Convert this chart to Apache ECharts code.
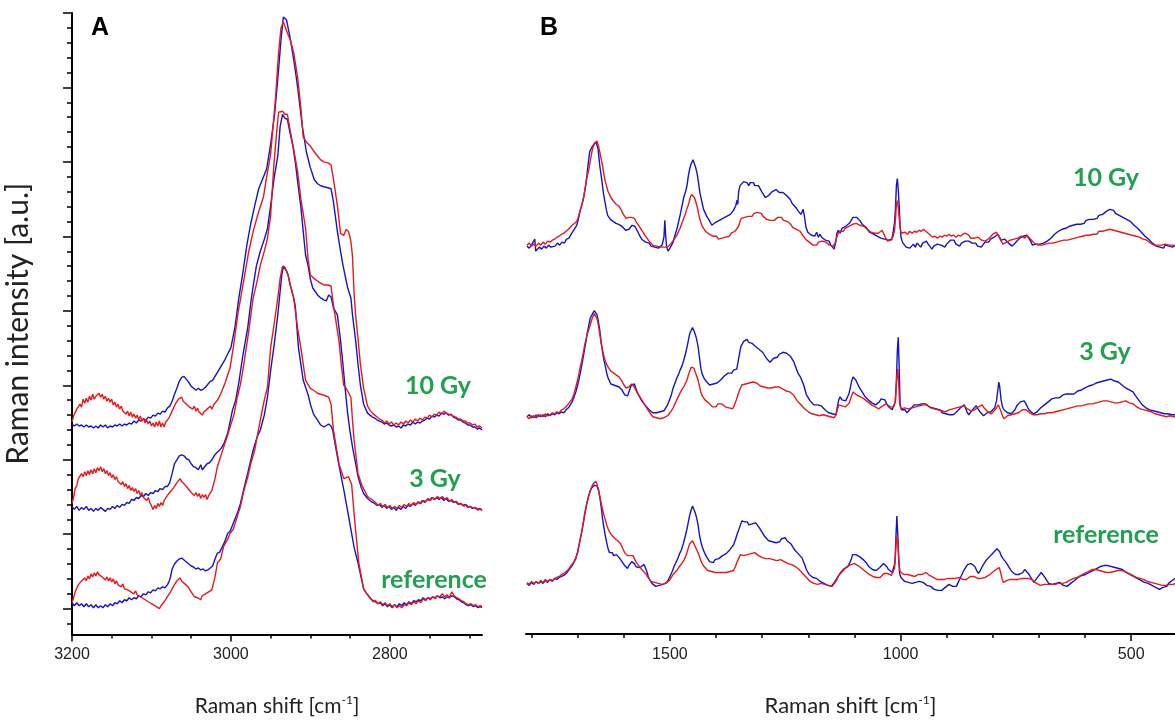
<!DOCTYPE html>
<html>
<head>
<meta charset="utf-8">
<script src="https://cdn.jsdelivr.net/npm/echarts@6/dist/echarts.min.js"></script>
<style>
html,body{margin:0;padding:0;background:#fff;}
#chart{width:1175px;height:722px;}
</style>
</head>
<body>
<div id="chart"></div>
<script>
// ---------- Panel A: 3200-2684 cm-1 ----------
const A_10Gy_blue = [[3200,186],[3197,184],[3194,186],[3191,184],[3188,185],[3185,183],[3182,185],[3179,183],[3176,184],[3173,182],[3170,184],[3167,182],[3164,185],[3161,183],[3158,185],[3155,182],[3152,184],[3149,183],[3146,185],[3143,184],[3140,186],[3137,184],[3134,186],[3131,185],[3128,187],[3125,186],[3122,189],[3119,187],[3116,190],[3113,189],[3110,191],[3107,190],[3104,193],[3101,192],[3098,195],[3095,194],[3092,197],[3089,196],[3086,199],[3083,198],[3080,202],[3077,204],[3074,209],[3071,216],[3068,222],[3065,229],[3062,233],[3059,234],[3056,231],[3053,228],[3050,224],[3047,222],[3044,220],[3041,222],[3038,220],[3035,221],[3032,223],[3029,226],[3026,229],[3023,230],[3020,234],[3017,238],[3014,242],[3011,246],[3008,250],[3005,255],[3000,263],[2995,283],[2990,313],[2985,338],[2980,366],[2975,388],[2970,406],[2965,423],[2960,433],[2955,443],[2950,468],[2945,498],[2940,543],[2937,573],[2934,596],[2930,593],[2925,573],[2920,548],[2916,525],[2910,485],[2905,460],[2900,444],[2895,432],[2891,428],[2887,426],[2883,425],[2878,424],[2874,423],[2871,410],[2866,380],[2862,360],[2859,346],[2853,323],[2849,313],[2847,296],[2843,270],[2840,246],[2837,225],[2833,206],[2828,197],[2825,195],[2822,193],[2819,192],[2816,190],[2813,189],[2810,188],[2807,186],[2804,187],[2801,185],[2798,184],[2795,185],[2792,183],[2789,184],[2786,182],[2783,185],[2780,184],[2777,186],[2774,185],[2771,188],[2768,186],[2765,188],[2762,187],[2759,189],[2756,190],[2753,192],[2750,191],[2747,194],[2744,193],[2741,195],[2738,194],[2735,197],[2732,196],[2729,197],[2726,195],[2723,196],[2720,193],[2717,192],[2714,190],[2711,190],[2708,188],[2705,187],[2702,185],[2699,185],[2696,183],[2693,183],[2690,181],[2687,182],[2684,180]];
const A_10Gy_red = [[3200,188],[3198,194],[3196,192],[3194,201],[3192,199],[3190,206],[3188,203],[3186,211],[3184,207],[3182,212],[3180,208],[3178,214],[3176,210],[3174,216],[3172,211],[3170,214],[3168,212],[3166,217],[3164,213],[3162,216],[3160,211],[3158,214],[3156,209],[3154,212],[3152,208],[3150,211],[3148,205],[3146,208],[3144,203],[3142,206],[3140,201],[3138,204],[3136,199],[3134,201],[3132,196],[3130,199],[3128,194],[3126,198],[3124,193],[3122,196],[3120,192],[3118,195],[3116,190],[3114,194],[3112,189],[3110,192],[3108,187],[3106,190],[3104,186],[3102,189],[3100,184],[3098,187],[3096,183],[3094,188],[3092,184],[3090,189],[3088,183],[3086,187],[3084,183],[3082,188],[3080,186],[3078,192],[3076,191],[3074,199],[3072,200],[3070,206],[3068,205],[3066,211],[3064,210],[3062,213],[3060,209],[3058,211],[3056,206],[3054,208],[3052,203],[3050,205],[3048,201],[3046,204],[3044,199],[3042,202],[3040,198],[3038,200],[3036,195],[3034,198],[3032,196],[3030,201],[3028,199],[3026,204],[3024,201],[3022,205],[3020,205],[3017,210],[3013,216],[3007,228],[3001,243],[2997,263],[2991,298],[2984,330],[2978,358],[2972,380],[2965,400],[2959,415],[2955,435],[2950,458],[2944,513],[2940,560],[2937,585],[2934,591],[2929,580],[2925,572],[2921,560],[2916,535],[2912,505],[2909,475],[2904,469],[2900,466],[2895,460],[2891,456],[2887,452],[2883,450],[2878,449],[2874,447],[2871,433],[2866,406],[2862,378],[2858,376],[2855,382],[2852,380],[2849,370],[2847,355],[2845,318],[2843,295],[2840,272],[2837,246],[2833,222],[2828,204],[2825,200],[2822,197],[2819,195],[2816,193],[2813,191],[2810,190],[2807,187],[2804,189],[2801,186],[2798,188],[2795,185],[2792,187],[2789,185],[2786,188],[2783,186],[2780,189],[2777,187],[2774,190],[2771,188],[2768,191],[2765,189],[2762,192],[2759,190],[2756,193],[2753,192],[2750,195],[2747,193],[2744,196],[2741,195],[2738,198],[2735,196],[2732,199],[2729,197],[2726,196],[2723,195],[2720,194],[2717,193],[2714,191],[2711,191],[2708,189],[2705,189],[2702,187],[2699,187],[2696,185],[2693,186],[2690,183],[2687,184],[2684,182]];
const A_3Gy_blue = [[3200,103],[3197,100],[3194,103],[3191,99],[3188,102],[3185,100],[3182,103],[3179,99],[3176,101],[3173,98],[3170,101],[3167,99],[3164,102],[3161,100],[3158,98],[3155,101],[3152,100],[3149,103],[3146,101],[3143,104],[3140,102],[3137,105],[3134,104],[3131,107],[3128,106],[3125,110],[3122,109],[3119,112],[3116,111],[3113,114],[3110,113],[3107,116],[3104,114],[3101,117],[3098,116],[3095,119],[3092,118],[3089,121],[3086,120],[3083,123],[3080,123],[3077,127],[3074,136],[3071,146],[3068,150],[3065,154],[3062,155],[3059,154],[3056,151],[3053,150],[3050,146],[3047,143],[3044,142],[3041,140],[3038,145],[3036,140],[3033,143],[3030,146],[3027,147],[3024,150],[3021,154],[3018,157],[3015,159],[3012,162],[3009,166],[3004,177],[2998,200],[2994,210],[2990,228],[2985,255],[2979,282],[2975,308],[2972,325],[2968,345],[2963,360],[2958,372],[2954,383],[2950,406],[2946,432],[2941,456],[2938,486],[2935,498],[2932,494],[2929,493],[2925,477],[2922,466],[2919,450],[2916,430],[2912,405],[2909,380],[2906,356],[2903,346],[2900,332],[2897,323],[2891,316],[2887,313],[2883,311],[2880,310],[2877,316],[2874,314],[2871,303],[2866,296],[2862,270],[2859,246],[2856,220],[2853,196],[2850,178],[2847,163],[2843,146],[2840,133],[2836,122],[2833,116],[2828,111],[2825,109],[2822,107],[2819,106],[2816,104],[2813,105],[2810,102],[2807,104],[2804,101],[2801,103],[2798,100],[2795,102],[2792,99],[2789,102],[2786,100],[2783,103],[2780,101],[2777,104],[2774,103],[2771,106],[2768,104],[2765,107],[2762,106],[2759,109],[2756,107],[2753,110],[2750,109],[2747,112],[2744,110],[2741,112],[2738,110],[2735,112],[2732,109],[2729,111],[2726,108],[2723,109],[2720,107],[2717,108],[2714,105],[2711,106],[2708,104],[2705,105],[2702,102],[2699,103],[2696,101],[2693,102],[2690,100],[2687,101],[2684,99]];
const A_3Gy_red = [[3200,106],[3198,112],[3196,121],[3194,124],[3192,131],[3190,129],[3188,136],[3186,133],[3184,138],[3182,134],[3180,139],[3178,135],[3176,140],[3174,136],[3172,141],[3170,137],[3168,142],[3166,139],[3164,143],[3162,138],[3160,141],[3158,136],[3156,139],[3154,134],[3152,137],[3150,132],[3148,135],[3146,130],[3144,133],[3142,128],[3140,130],[3138,125],[3136,128],[3134,123],[3132,126],[3130,121],[3128,124],[3126,119],[3124,122],[3122,118],[3120,121],[3118,116],[3116,119],[3114,114],[3112,117],[3110,112],[3108,114],[3106,109],[3104,112],[3102,107],[3100,106],[3098,100],[3096,104],[3094,101],[3092,106],[3090,103],[3088,107],[3086,104],[3084,109],[3082,108],[3080,114],[3078,113],[3076,118],[3074,117],[3072,122],[3070,121],[3068,127],[3066,126],[3064,131],[3062,128],[3060,130],[3058,125],[3056,126],[3054,121],[3052,122],[3050,117],[3048,119],[3046,114],[3044,117],[3042,113],[3040,116],[3038,111],[3036,115],[3034,112],[3032,115],[3030,110],[3028,114],[3026,115],[3024,119],[3022,120],[3020,131],[3017,143],[3013,153],[3009,163],[3004,175],[3001,183],[2996,196],[2992,213],[2988,226],[2985,240],[2978,277],[2972,313],[2967,330],[2963,346],[2958,360],[2954,373],[2950,396],[2946,446],[2943,475],[2940,500],[2935,501],[2932,498],[2929,498],[2925,480],[2921,463],[2916,440],[2912,413],[2906,383],[2903,353],[2900,336],[2896,333],[2891,330],[2887,328],[2883,326],[2878,326],[2874,325],[2871,306],[2866,280],[2864,270],[2861,245],[2858,225],[2855,222],[2853,221],[2849,213],[2847,190],[2845,170],[2842,150],[2840,136],[2835,124],[2828,113],[2821,109],[2818,107],[2815,104],[2812,106],[2809,103],[2806,105],[2803,102],[2800,104],[2797,101],[2794,103],[2791,101],[2788,104],[2785,102],[2782,105],[2779,103],[2776,106],[2773,104],[2770,107],[2767,105],[2764,108],[2761,106],[2758,109],[2755,108],[2752,111],[2749,109],[2746,112],[2743,110],[2740,113],[2737,111],[2734,113],[2731,110],[2728,112],[2725,108],[2722,110],[2719,107],[2716,108],[2713,105],[2710,106],[2707,103],[2704,105],[2701,102],[2698,103],[2695,101],[2692,102],[2689,99],[2686,101],[2684,99]];
const A_ref_blue = [[3200,6],[3197,3],[3194,6],[3191,3],[3188,5],[3185,2],[3182,5],[3179,2],[3176,4],[3173,1],[3170,4],[3167,1],[3164,3],[3161,1],[3158,4],[3155,2],[3152,5],[3149,3],[3146,6],[3143,5],[3140,8],[3137,6],[3134,9],[3131,8],[3128,11],[3125,9],[3122,11],[3119,10],[3116,13],[3113,12],[3110,15],[3107,14],[3104,17],[3101,16],[3098,19],[3095,18],[3092,21],[3089,20],[3086,22],[3083,21],[3080,24],[3078,27],[3076,32],[3074,40],[3071,45],[3068,48],[3065,50],[3062,51],[3059,49],[3056,47],[3053,45],[3050,43],[3047,42],[3044,40],[3041,41],[3038,39],[3035,40],[3032,38],[3029,39],[3026,41],[3023,43],[3020,50],[3017,56],[3014,57],[3011,62],[3008,67],[3004,76],[3001,78],[2997,86],[2992,96],[2988,106],[2984,120],[2979,136],[2972,160],[2967,173],[2963,180],[2958,195],[2954,213],[2950,240],[2946,263],[2941,296],[2938,320],[2936,336],[2934,345],[2930,340],[2928,336],[2925,325],[2921,313],[2919,305],[2915,263],[2909,230],[2903,216],[2900,206],[2896,196],[2891,190],[2887,185],[2883,183],[2877,186],[2874,184],[2872,180],[2866,153],[2862,136],[2858,120],[2853,98],[2849,80],[2845,62],[2840,46],[2836,31],[2833,20],[2828,14],[2824,10],[2821,8],[2818,7],[2815,5],[2812,6],[2809,3],[2806,5],[2803,2],[2800,4],[2797,1],[2794,4],[2791,2],[2788,5],[2785,3],[2782,6],[2779,4],[2776,7],[2773,5],[2770,8],[2767,7],[2764,9],[2761,8],[2758,11],[2755,9],[2752,11],[2749,10],[2746,12],[2743,11],[2740,13],[2737,11],[2734,12],[2731,10],[2728,12],[2725,11],[2722,13],[2719,12],[2716,10],[2713,9],[2710,7],[2707,6],[2704,4],[2701,3],[2698,4],[2695,2],[2692,3],[2689,1],[2686,2],[2684,1]];
const A_ref_red = [[3200,6],[3198,11],[3196,17],[3194,19],[3192,24],[3190,22],[3188,28],[3186,26],[3184,31],[3182,28],[3180,33],[3178,30],[3176,35],[3174,32],[3172,36],[3170,33],[3168,37],[3166,34],[3164,36],[3162,32],[3160,34],[3158,29],[3156,32],[3154,28],[3152,31],[3150,27],[3148,30],[3146,25],[3144,28],[3142,24],[3140,26],[3138,22],[3136,25],[3134,20],[3132,22],[3130,19],[3128,21],[3126,17],[3124,19],[3122,15],[3120,18],[3118,14],[3116,16],[3114,12],[3112,14],[3110,10],[3108,12],[3106,8],[3104,10],[3102,6],[3100,8],[3098,4],[3096,6],[3094,2],[3092,4],[3090,0],[3088,3],[3086,2],[3084,7],[3082,7],[3080,12],[3078,12],[3076,17],[3074,18],[3072,23],[3070,23],[3068,28],[3066,27],[3064,31],[3062,28],[3060,29],[3058,25],[3056,26],[3054,22],[3052,21],[3050,17],[3048,15],[3046,12],[3044,14],[3042,11],[3040,13],[3038,9],[3036,13],[3034,11],[3032,15],[3030,13],[3028,17],[3026,15],[3024,19],[3022,20],[3020,32],[3017,46],[3013,50],[3009,63],[3004,70],[3001,76],[2997,80],[2992,93],[2988,103],[2984,118],[2979,132],[2975,146],[2970,160],[2967,173],[2963,190],[2958,210],[2954,223],[2950,263],[2945,290],[2941,313],[2938,333],[2935,345],[2932,344],[2928,336],[2925,325],[2921,313],[2916,282],[2912,263],[2906,230],[2900,222],[2896,220],[2891,217],[2887,216],[2883,215],[2877,213],[2874,206],[2871,180],[2864,146],[2858,131],[2855,132],[2852,133],[2848,125],[2845,96],[2842,70],[2839,46],[2833,20],[2828,14],[2824,10],[2821,7],[2818,8],[2815,5],[2812,7],[2809,4],[2806,6],[2803,3],[2800,5],[2797,2],[2794,4],[2791,1],[2788,3],[2785,1],[2782,4],[2779,3],[2776,6],[2773,4],[2770,7],[2767,5],[2764,8],[2761,6],[2758,10],[2755,8],[2752,11],[2749,9],[2746,12],[2743,10],[2740,13],[2737,12],[2734,15],[2731,12],[2728,14],[2725,11],[2722,17],[2719,13],[2716,11],[2713,10],[2710,8],[2707,7],[2704,5],[2701,4],[2698,5],[2695,3],[2692,4],[2689,2],[2686,3],[2684,2]];

// ---------- Panel B: 1812-405 cm-1 ----------
const B_10Gy_blue = [[1810,391],[1805,389],[1800,392],[1796,390],[1793,398],[1791,386],[1788,388],[1783,390],[1778,388],[1773,391],[1768,389],[1763,392],[1758,390],[1754,392],[1749,391],[1744,394],[1739,392],[1734,395],[1729,394],[1724,398],[1719,399],[1714,403],[1710,406],[1706,409],[1702,412],[1698,419],[1695,426],[1691,432],[1687,440],[1683,451],[1680,462],[1677,475],[1674,486],[1671,488],[1669,491],[1665,493],[1661,496],[1658,494],[1656,490],[1654,481],[1652,472],[1649,462],[1647,455],[1644,444],[1641,436],[1638,428],[1635,422],[1632,420],[1629,418],[1626,419],[1623,416],[1620,417],[1617,414],[1614,416],[1611,413],[1608,413],[1604,411],[1600,409],[1596,407],[1593,405],[1589,408],[1586,410],[1582,412],[1579,410],[1576,411],[1572,410],[1568,404],[1565,401],[1561,398],[1557,396],[1553,395],[1549,393],[1545,394],[1541,391],[1537,392],[1533,390],[1529,392],[1525,389],[1521,391],[1517,392],[1513,400],[1511,417],[1509,400],[1507,390],[1504,386],[1500,389],[1496,391],[1493,395],[1489,402],[1485,408],[1481,416],[1478,422],[1474,431],[1470,440],[1466,446],[1463,452],[1460,462],[1457,469],[1454,474],[1450,478],[1447,474],[1444,470],[1441,464],[1438,455],[1435,445],[1431,436],[1427,428],[1424,425],[1420,421],[1416,418],[1413,416],[1409,412],[1405,414],[1401,415],[1397,414],[1393,417],[1389,416],[1385,419],[1381,418],[1377,421],[1373,420],[1369,423],[1365,425],[1362,427],[1359,426],[1357,432],[1355,437],[1353,433],[1351,446],[1348,452],[1344,453],[1340,456],[1336,454],[1333,455],[1329,452],[1326,455],[1322,453],[1319,455],[1316,452],[1312,451],[1308,452],[1305,450],[1301,446],[1297,443],[1293,440],[1290,440],[1286,442],[1282,444],[1278,446],[1274,447],[1270,448],[1267,446],[1263,445],[1259,447],[1255,445],[1251,443],[1247,442],[1243,440],[1239,438],[1235,434],[1231,432],[1227,430],[1223,427],[1219,425],[1216,423],[1214,421],[1211,428],[1208,420],[1205,410],[1201,405],[1197,404],[1193,402],[1190,404],[1186,401],[1182,405],[1178,400],[1175,403],[1171,400],[1167,398],[1163,397],[1159,395],[1155,396],[1151,392],[1147,390],[1144,388],[1140,396],[1138,404],[1135,407],[1131,404],[1127,409],[1123,408],[1119,411],[1115,410],[1111,414],[1107,417],[1103,420],[1099,422],[1095,420],[1091,418],[1087,416],[1083,413],[1079,411],[1075,410],[1071,408],[1067,405],[1063,406],[1059,403],[1055,402],[1051,401],[1047,403],[1043,399],[1039,401],[1035,398],[1031,400],[1027,397],[1023,396],[1019,398],[1016,405],[1013,415],[1011,430],[1009,452],[1007,459],[1005,448],[1003,432],[1001,412],[999,400],[996,395],[992,393],[988,390],[984,392],[980,389],[976,391],[972,393],[968,390],[964,394],[960,392],[956,390],[952,394],[948,392],[944,396],[940,393],[936,391],[932,388],[928,391],[924,390],[920,393],[916,395],[912,392],[908,394],[904,390],[900,393],[896,394],[892,397],[888,395],[884,397],[880,393],[876,395],[872,391],[868,394],[864,392],[860,396],[856,398],[852,396],[849,398],[845,394],[841,392],[837,394],[833,391],[829,393],[825,390],[821,392],[817,395],[813,397],[809,395],[805,398],[801,396],[797,400],[793,401],[789,403],[786,401],[782,397],[778,396],[774,398],[770,396],[766,394],[762,393],[758,391],[754,393],[750,395],[746,397],[742,399],[738,398],[734,401],[730,399],[726,402],[722,400],[718,396],[714,392],[710,391],[706,393],[702,391],[698,393],[694,392],[690,394],[686,393],[682,396],[678,396],[674,399],[670,400],[666,403],[662,402],[658,406],[654,405],[650,408],[646,406],[642,409],[638,408],[634,411],[630,410],[626,412],[622,411],[618,413],[614,414],[610,413],[606,415],[602,414],[598,417],[594,416],[590,418],[586,419],[582,418],[578,420],[574,419],[570,422],[566,421],[562,423],[558,424],[554,426],[550,425],[546,428],[542,426],[538,427],[534,424],[530,425],[526,422],[522,423],[518,420],[514,421],[510,418],[506,418],[502,416],[498,415],[494,412],[490,411],[486,409],[482,407],[478,405],[474,403],[470,401],[466,400],[462,398],[458,397],[454,394],[450,393],[446,391],[442,392],[438,390],[434,391],[430,389],[426,392],[422,390],[418,391],[414,393],[410,390],[405,392]];
const B_10Gy_red = [[1810,392],[1805,394],[1800,391],[1795,393],[1790,391],[1785,394],[1780,392],[1775,395],[1770,393],[1765,396],[1760,395],[1755,397],[1750,398],[1745,400],[1740,401],[1735,403],[1730,404],[1725,406],[1720,408],[1716,410],[1712,412],[1708,413],[1704,415],[1700,418],[1697,423],[1694,428],[1691,433],[1688,438],[1685,446],[1682,455],[1679,462],[1676,468],[1673,476],[1670,484],[1667,490],[1664,494],[1661,496],[1658,497],[1655,492],[1652,486],[1649,479],[1646,472],[1643,463],[1640,456],[1637,451],[1634,446],[1631,443],[1628,440],[1625,438],[1622,436],[1619,435],[1616,433],[1613,433],[1610,431],[1607,430],[1604,426],[1601,423],[1598,421],[1595,419],[1592,418],[1589,420],[1586,421],[1583,420],[1580,418],[1577,419],[1574,416],[1571,414],[1568,412],[1565,410],[1561,407],[1557,404],[1553,401],[1549,399],[1545,396],[1541,394],[1537,392],[1533,393],[1529,391],[1525,393],[1521,390],[1517,392],[1513,390],[1509,391],[1505,390],[1501,392],[1497,394],[1493,396],[1489,399],[1485,402],[1481,406],[1478,409],[1474,414],[1470,419],[1466,424],[1463,429],[1459,434],[1456,440],[1453,443],[1450,443],[1447,440],[1444,436],[1441,431],[1438,424],[1435,418],[1431,412],[1427,409],[1423,406],[1419,405],[1415,403],[1411,402],[1407,401],[1403,399],[1399,401],[1395,398],[1391,400],[1387,399],[1383,401],[1379,400],[1375,402],[1371,401],[1367,404],[1363,403],[1359,406],[1355,407],[1351,411],[1348,416],[1345,419],[1342,421],[1338,420],[1334,422],[1330,421],[1326,423],[1322,421],[1318,424],[1314,423],[1310,425],[1306,423],[1302,424],[1298,421],[1294,420],[1290,418],[1286,416],[1282,417],[1278,415],[1274,417],[1270,418],[1266,420],[1262,419],[1258,420],[1254,417],[1250,418],[1246,416],[1242,414],[1238,413],[1234,410],[1230,409],[1226,408],[1222,407],[1218,406],[1214,403],[1210,401],[1206,398],[1202,396],[1198,395],[1194,393],[1190,392],[1186,394],[1182,392],[1178,395],[1174,393],[1170,396],[1166,394],[1162,395],[1158,393],[1154,392],[1150,390],[1146,391],[1142,394],[1139,399],[1136,403],[1132,406],[1128,407],[1124,406],[1120,409],[1116,410],[1112,411],[1108,412],[1104,413],[1100,415],[1096,414],[1092,413],[1088,412],[1084,411],[1080,411],[1076,409],[1072,408],[1068,406],[1064,405],[1060,403],[1056,404],[1052,402],[1048,404],[1044,405],[1040,407],[1036,403],[1032,399],[1028,396],[1024,394],[1020,397],[1016,401],[1013,407],[1011,418],[1009,433],[1007,437],[1005,430],[1003,420],[1001,410],[999,404],[995,402],[990,405],[985,403],[980,406],[975,404],[970,406],[965,405],[960,407],[955,406],[950,408],[945,406],[940,404],[935,402],[930,400],[925,401],[920,399],[915,401],[910,400],[905,402],[900,401],[895,403],[890,401],[885,402],[880,400],[875,402],[870,401],[865,403],[860,404],[856,406],[852,402],[848,399],[844,397],[840,399],[836,398],[832,400],[828,399],[824,397],[820,398],[816,396],[812,397],[808,399],[804,401],[800,403],[796,402],[792,405],[789,404],[786,400],[782,396],[778,393],[774,394],[770,395],[766,396],[762,397],[758,396],[754,398],[750,397],[746,399],[742,400],[738,401],[734,401],[730,399],[726,402],[722,400],[718,398],[714,396],[710,394],[706,393],[702,392],[698,393],[694,392],[690,394],[686,393],[682,395],[678,394],[674,396],[670,394],[666,396],[662,395],[658,397],[654,396],[650,398],[646,397],[642,399],[638,397],[634,399],[630,398],[626,400],[622,399],[618,401],[614,400],[610,402],[606,401],[602,403],[598,402],[594,404],[590,402],[586,404],[582,403],[578,405],[574,403],[570,406],[566,404],[562,406],[558,404],[554,407],[550,405],[546,408],[542,406],[538,407],[534,405],[530,406],[526,404],[522,405],[518,403],[514,404],[510,402],[506,403],[502,401],[498,402],[494,400],[490,401],[486,399],[482,400],[478,398],[474,398],[470,396],[466,397],[462,395],[458,394],[454,393],[450,392],[446,391],[442,392],[438,390],[434,392],[430,391],[426,393],[422,391],[418,392],[414,390],[410,392],[405,391]];
const B_3Gy_blue = [[1810,219],[1805,221],[1800,218],[1795,220],[1790,218],[1785,221],[1780,219],[1775,221],[1770,219],[1765,222],[1760,220],[1755,222],[1750,221],[1745,223],[1740,222],[1735,224],[1730,223],[1725,226],[1720,228],[1716,231],[1712,234],[1708,239],[1704,244],[1700,251],[1697,257],[1694,264],[1691,271],[1688,279],[1685,287],[1682,295],[1679,304],[1676,311],[1673,318],[1670,321],[1667,323],[1664,326],[1661,326],[1658,322],[1655,315],[1652,306],[1649,294],[1646,284],[1643,276],[1640,270],[1637,263],[1634,258],[1631,255],[1628,252],[1625,254],[1622,251],[1619,253],[1616,250],[1613,251],[1610,249],[1607,248],[1604,246],[1601,244],[1598,241],[1595,239],[1592,240],[1589,244],[1586,248],[1583,251],[1580,249],[1577,252],[1574,248],[1571,244],[1568,241],[1565,239],[1561,235],[1557,233],[1553,230],[1549,228],[1545,226],[1541,225],[1537,223],[1533,225],[1529,223],[1525,225],[1521,224],[1517,226],[1513,225],[1509,228],[1505,231],[1501,236],[1497,241],[1493,248],[1489,253],[1485,258],[1481,262],[1478,266],[1474,270],[1470,276],[1466,283],[1463,289],[1460,296],[1457,303],[1454,306],[1451,309],[1448,306],[1445,302],[1442,297],[1439,290],[1436,279],[1433,268],[1430,262],[1426,258],[1422,255],[1418,253],[1414,251],[1410,253],[1406,252],[1402,254],[1398,253],[1394,255],[1390,256],[1386,258],[1382,260],[1378,262],[1374,263],[1370,265],[1366,263],[1362,266],[1358,265],[1355,267],[1352,275],[1349,283],[1346,290],[1343,292],[1340,295],[1336,293],[1333,297],[1329,294],[1326,296],[1322,293],[1319,292],[1315,290],[1311,290],[1307,287],[1303,286],[1299,284],[1295,281],[1291,278],[1287,276],[1283,274],[1279,276],[1275,278],[1271,280],[1267,279],[1263,282],[1259,281],[1255,284],[1251,282],[1247,283],[1243,281],[1239,280],[1235,278],[1231,274],[1228,270],[1225,266],[1221,262],[1217,259],[1213,257],[1210,251],[1207,246],[1204,241],[1200,238],[1196,235],[1192,233],[1188,231],[1184,233],[1180,231],[1176,233],[1172,230],[1168,228],[1164,226],[1160,225],[1156,223],[1152,224],[1148,222],[1144,223],[1140,221],[1137,229],[1134,236],[1131,239],[1127,236],[1123,238],[1119,235],[1116,236],[1112,242],[1109,248],[1106,255],[1103,259],[1100,257],[1097,256],[1094,253],[1090,249],[1086,246],[1082,243],[1078,240],[1074,238],[1070,236],[1066,234],[1062,233],[1058,232],[1054,231],[1050,233],[1046,234],[1042,237],[1038,239],[1034,236],[1030,232],[1026,229],[1022,228],[1018,226],[1014,228],[1011,235],[1009,256],[1007,285],[1005,299],[1003,270],[1001,232],[998,226],[994,224],[990,226],[986,223],[982,225],[978,227],[974,229],[970,231],[966,233],[962,231],[958,233],[954,232],[950,234],[946,232],[942,230],[938,229],[934,231],[930,228],[926,226],[922,227],[918,225],[914,226],[910,223],[906,224],[902,222],[898,224],[894,221],[890,223],[886,221],[882,222],[878,224],[874,226],[870,228],[866,229],[862,231],[859,230],[856,224],[852,221],[848,223],[844,226],[840,228],[836,230],[832,227],[828,224],[824,222],[820,220],[816,221],[812,223],[808,222],[804,224],[800,225],[796,228],[792,235],[789,246],[787,254],[785,249],[782,236],[779,229],[776,226],[772,224],[768,223],[764,221],[760,222],[756,223],[752,226],[748,230],[744,232],[740,234],[736,236],[732,235],[728,232],[724,228],[720,225],[716,223],[712,222],[708,222],[704,224],[700,226],[696,228],[692,230],[688,231],[684,233],[680,234],[676,235],[672,237],[668,236],[664,238],[660,239],[656,238],[652,240],[648,241],[644,243],[640,242],[636,241],[632,242],[628,243],[624,242],[620,244],[616,245],[612,244],[608,246],[604,247],[600,248],[596,249],[592,250],[588,249],[584,251],[580,252],[576,253],[572,254],[568,254],[564,256],[560,255],[556,257],[552,256],[548,258],[544,257],[540,257],[536,255],[532,256],[528,254],[524,253],[520,251],[516,250],[512,248],[508,247],[504,246],[500,245],[496,244],[492,241],[488,239],[484,236],[480,234],[476,231],[472,229],[468,228],[464,226],[460,226],[456,224],[452,225],[448,223],[444,224],[440,222],[436,223],[432,221],[428,222],[424,220],[420,222],[416,220],[412,221],[408,219],[405,221]];
const B_3Gy_red = [[1810,219],[1805,217],[1800,220],[1795,218],[1790,221],[1785,219],[1780,221],[1775,219],[1770,222],[1765,220],[1760,221],[1755,223],[1750,222],[1745,224],[1740,223],[1735,226],[1730,227],[1725,229],[1720,232],[1716,234],[1712,237],[1708,242],[1704,249],[1700,256],[1697,263],[1694,270],[1691,276],[1688,283],[1685,291],[1682,297],[1679,302],[1676,307],[1673,311],[1670,316],[1667,320],[1664,323],[1661,324],[1658,318],[1655,311],[1652,302],[1649,293],[1646,286],[1643,280],[1640,275],[1637,272],[1634,269],[1631,267],[1628,265],[1625,264],[1622,263],[1619,262],[1616,261],[1613,260],[1610,259],[1607,257],[1604,255],[1601,252],[1598,250],[1595,248],[1592,247],[1589,249],[1586,250],[1583,252],[1580,251],[1577,249],[1574,246],[1571,243],[1568,241],[1565,239],[1561,236],[1557,233],[1553,230],[1549,227],[1545,224],[1541,222],[1537,219],[1533,220],[1529,218],[1525,219],[1521,217],[1517,218],[1513,218],[1509,219],[1505,220],[1501,222],[1497,225],[1493,228],[1489,232],[1485,236],[1481,240],[1477,244],[1473,247],[1469,250],[1466,253],[1463,256],[1460,261],[1457,265],[1454,269],[1451,271],[1448,268],[1445,264],[1442,260],[1439,256],[1436,250],[1433,244],[1430,240],[1427,238],[1424,236],[1420,234],[1416,233],[1412,231],[1408,229],[1404,231],[1400,229],[1396,232],[1392,230],[1388,232],[1384,231],[1380,229],[1376,230],[1372,228],[1368,229],[1364,227],[1360,231],[1356,236],[1352,242],[1348,247],[1344,251],[1340,250],[1336,252],[1332,251],[1328,253],[1324,252],[1320,254],[1316,252],[1312,253],[1308,251],[1304,250],[1300,248],[1296,249],[1292,247],[1288,248],[1284,246],[1280,248],[1276,250],[1272,249],[1268,251],[1264,249],[1260,250],[1256,247],[1252,246],[1248,245],[1244,246],[1240,244],[1236,243],[1232,241],[1228,238],[1224,235],[1220,233],[1216,231],[1212,229],[1208,227],[1204,225],[1200,224],[1196,223],[1192,222],[1188,223],[1184,221],[1180,222],[1176,220],[1172,222],[1168,221],[1164,222],[1160,220],[1156,221],[1152,219],[1148,220],[1144,218],[1140,221],[1137,226],[1134,231],[1131,232],[1127,230],[1123,231],[1119,229],[1115,230],[1111,233],[1107,239],[1103,244],[1099,242],[1095,241],[1091,240],[1087,239],[1083,238],[1079,237],[1075,236],[1071,234],[1067,233],[1063,231],[1059,230],[1055,229],[1051,227],[1047,227],[1043,228],[1039,230],[1035,231],[1031,232],[1027,231],[1023,229],[1019,228],[1015,229],[1012,233],[1010,245],[1008,259],[1006,267],[1004,252],[1002,232],[999,227],[995,226],[991,228],[987,226],[983,227],[979,229],[975,228],[971,230],[967,229],[963,231],[959,230],[955,232],[951,231],[947,233],[943,231],[939,230],[935,228],[931,229],[927,227],[923,228],[919,226],[915,227],[911,225],[907,226],[903,224],[899,225],[895,226],[891,228],[887,227],[883,229],[879,228],[875,230],[871,229],[867,231],[863,230],[859,229],[855,227],[851,226],[847,225],[843,224],[839,226],[835,228],[831,229],[827,231],[823,231],[819,228],[815,226],[811,224],[807,223],[803,222],[799,224],[795,226],[791,228],[788,231],[785,229],[782,224],[779,220],[776,217],[772,219],[768,220],[764,222],[760,221],[756,223],[752,222],[748,224],[744,223],[740,225],[736,226],[732,227],[728,226],[724,224],[720,223],[716,222],[712,221],[708,222],[704,221],[700,220],[696,222],[692,221],[688,222],[684,221],[680,223],[676,222],[672,223],[668,222],[664,224],[660,223],[656,225],[652,224],[648,226],[644,225],[640,227],[636,226],[632,228],[628,227],[624,229],[620,228],[616,230],[612,229],[608,230],[604,229],[600,231],[596,230],[592,232],[588,231],[584,232],[580,231],[576,233],[572,232],[568,234],[564,233],[560,235],[556,234],[552,235],[548,233],[544,234],[540,232],[536,233],[532,231],[528,233],[524,232],[520,234],[516,233],[512,235],[508,234],[504,233],[500,232],[496,232],[492,230],[488,229],[484,228],[480,227],[476,226],[472,226],[468,224],[464,225],[460,223],[456,224],[452,222],[448,222],[444,220],[440,221],[436,219],[432,220],[428,218],[424,219],[420,218],[416,220],[412,218],[408,219],[405,219]];
const B_ref_blue = [[1810,51],[1805,49],[1800,52],[1795,50],[1790,53],[1785,51],[1780,53],[1775,51],[1770,54],[1765,52],[1760,55],[1755,53],[1750,56],[1745,55],[1740,57],[1735,58],[1730,59],[1725,61],[1720,64],[1716,66],[1712,69],[1708,71],[1704,76],[1700,83],[1697,90],[1694,97],[1691,103],[1688,111],[1685,119],[1682,127],[1679,134],[1676,140],[1673,144],[1670,147],[1667,149],[1664,150],[1661,151],[1658,149],[1655,145],[1652,138],[1649,128],[1646,116],[1643,107],[1640,99],[1637,92],[1634,86],[1631,82],[1628,80],[1625,82],[1622,79],[1619,81],[1616,80],[1613,78],[1610,77],[1607,75],[1604,73],[1601,71],[1598,69],[1595,67],[1592,66],[1589,69],[1586,71],[1583,73],[1580,74],[1577,71],[1574,68],[1571,66],[1568,67],[1565,66],[1562,68],[1559,67],[1556,70],[1553,68],[1550,63],[1547,58],[1543,54],[1539,51],[1535,49],[1531,48],[1527,47],[1523,49],[1519,48],[1515,50],[1511,49],[1507,52],[1503,55],[1499,59],[1495,63],[1491,68],[1487,72],[1483,76],[1479,81],[1475,85],[1471,91],[1467,98],[1463,106],[1460,113],[1457,120],[1454,125],[1451,129],[1448,127],[1445,122],[1442,117],[1439,110],[1436,100],[1433,93],[1430,88],[1426,83],[1422,79],[1418,76],[1414,73],[1410,74],[1406,72],[1402,75],[1398,74],[1394,76],[1390,77],[1386,79],[1382,78],[1378,81],[1374,83],[1370,85],[1366,87],[1362,90],[1358,95],[1354,101],[1350,106],[1347,110],[1344,114],[1341,116],[1338,113],[1335,111],[1332,113],[1329,110],[1326,109],[1322,111],[1318,110],[1314,112],[1310,110],[1306,107],[1302,104],[1298,101],[1294,98],[1290,96],[1286,94],[1282,95],[1278,93],[1274,94],[1270,92],[1266,94],[1262,93],[1258,96],[1254,95],[1250,97],[1246,94],[1242,93],[1238,91],[1234,88],[1230,85],[1226,83],[1222,81],[1218,79],[1214,77],[1211,76],[1208,70],[1205,66],[1202,63],[1198,60],[1194,59],[1190,57],[1186,58],[1182,56],[1178,55],[1174,53],[1170,52],[1166,51],[1162,50],[1158,49],[1154,50],[1150,48],[1146,50],[1142,53],[1138,56],[1134,59],[1130,62],[1126,64],[1122,66],[1118,67],[1114,68],[1110,70],[1107,75],[1104,80],[1101,82],[1097,80],[1093,79],[1089,78],[1085,77],[1081,75],[1077,73],[1073,71],[1069,68],[1065,66],[1061,65],[1057,66],[1053,64],[1049,66],[1045,67],[1041,69],[1037,71],[1034,72],[1030,68],[1026,65],[1022,63],[1018,62],[1015,64],[1012,72],[1010,98],[1008,119],[1006,100],[1004,75],[1002,61],[999,57],[995,55],[991,53],[987,54],[983,52],[979,53],[975,51],[971,53],[967,52],[963,54],[959,53],[955,51],[951,52],[947,50],[943,49],[939,47],[935,48],[931,46],[927,45],[923,43],[919,44],[915,42],[911,44],[907,45],[903,47],[899,48],[895,50],[891,49],[887,48],[883,46],[879,48],[875,52],[871,56],[867,60],[863,64],[859,67],[855,70],[851,72],[847,71],[843,72],[839,68],[835,64],[831,61],[827,64],[823,68],[819,71],[815,74],[811,76],[807,78],[803,80],[799,82],[795,84],[791,86],[788,86],[785,83],[782,79],[778,76],[774,74],[771,72],[767,69],[763,66],[759,63],[755,61],[751,60],[747,62],[743,60],[739,59],[735,62],[731,65],[727,64],[723,61],[719,58],[715,55],[711,52],[707,54],[703,57],[699,59],[695,62],[691,60],[687,57],[683,54],[679,51],[675,49],[671,50],[667,52],[663,51],[659,53],[655,52],[651,50],[647,49],[643,50],[639,48],[635,50],[631,51],[627,53],[623,54],[619,55],[615,57],[611,57],[607,59],[603,58],[599,60],[595,61],[591,62],[587,63],[583,64],[579,65],[575,66],[571,67],[567,68],[563,68],[559,69],[555,68],[551,69],[547,67],[543,68],[539,66],[535,67],[531,65],[527,66],[523,64],[519,65],[515,63],[511,62],[507,61],[503,60],[499,59],[495,58],[491,57],[487,56],[483,55],[479,54],[475,53],[471,52],[467,52],[463,51],[459,50],[455,49],[451,48],[447,47],[443,46],[439,45],[435,47],[431,47],[427,49],[423,48],[419,51],[415,52],[411,54],[408,55],[405,56]];
const B_ref_red = [[1810,52],[1805,50],[1800,53],[1795,51],[1790,53],[1785,51],[1780,54],[1775,52],[1770,55],[1765,53],[1760,55],[1755,54],[1750,56],[1745,57],[1740,58],[1735,60],[1730,61],[1725,63],[1720,65],[1716,68],[1712,70],[1708,73],[1704,77],[1700,82],[1697,89],[1694,96],[1691,104],[1688,112],[1685,121],[1682,128],[1679,134],[1676,139],[1673,144],[1670,148],[1667,151],[1664,153],[1661,154],[1658,151],[1655,146],[1652,139],[1649,132],[1646,125],[1643,120],[1640,115],[1637,110],[1634,106],[1631,103],[1628,101],[1625,99],[1622,97],[1619,96],[1616,95],[1613,94],[1610,93],[1607,91],[1604,88],[1601,85],[1598,82],[1595,80],[1592,79],[1589,80],[1586,79],[1583,81],[1580,79],[1577,76],[1574,73],[1571,71],[1568,69],[1565,67],[1561,65],[1557,63],[1553,61],[1549,58],[1545,56],[1541,53],[1537,51],[1533,52],[1529,50],[1525,51],[1521,49],[1517,50],[1513,49],[1509,51],[1505,52],[1501,54],[1497,57],[1493,60],[1489,62],[1485,64],[1481,67],[1477,69],[1473,72],[1469,75],[1466,78],[1463,82],[1460,87],[1457,91],[1454,93],[1451,94],[1448,91],[1445,88],[1442,85],[1439,82],[1436,78],[1433,74],[1430,71],[1426,68],[1422,66],[1418,64],[1414,62],[1410,63],[1406,61],[1402,62],[1398,60],[1394,62],[1390,61],[1386,62],[1382,60],[1378,62],[1374,61],[1370,63],[1366,62],[1362,64],[1358,68],[1354,73],[1350,77],[1347,80],[1344,81],[1340,79],[1336,81],[1332,80],[1328,79],[1324,81],[1320,80],[1316,82],[1312,81],[1308,79],[1304,78],[1300,77],[1296,78],[1292,76],[1288,75],[1284,76],[1280,74],[1276,75],[1272,73],[1268,74],[1264,73],[1260,75],[1256,74],[1252,73],[1248,72],[1244,71],[1240,70],[1236,70],[1232,69],[1228,68],[1224,66],[1220,65],[1216,63],[1212,61],[1208,59],[1204,57],[1200,55],[1196,53],[1192,52],[1188,51],[1184,52],[1180,50],[1176,52],[1172,51],[1168,52],[1164,50],[1160,51],[1156,49],[1152,50],[1148,48],[1144,50],[1140,53],[1136,57],[1132,60],[1128,62],[1124,64],[1120,66],[1116,68],[1112,69],[1108,70],[1104,72],[1100,71],[1096,70],[1092,69],[1088,67],[1084,66],[1080,64],[1076,63],[1072,61],[1068,60],[1064,59],[1060,58],[1056,59],[1052,57],[1048,58],[1044,57],[1040,59],[1036,61],[1032,62],[1028,61],[1024,60],[1020,59],[1016,61],[1013,66],[1011,80],[1009,96],[1007,99],[1005,85],[1003,70],[1001,63],[997,61],[993,60],[989,59],[985,60],[981,58],[977,59],[973,57],[969,58],[965,59],[961,60],[957,61],[953,60],[949,62],[945,62],[941,61],[937,59],[933,58],[929,57],[925,56],[921,55],[917,54],[913,55],[909,56],[905,55],[901,57],[897,56],[893,57],[889,56],[885,55],[881,56],[877,55],[873,57],[869,56],[865,55],[861,56],[857,55],[853,57],[849,58],[845,59],[841,58],[837,57],[833,56],[829,55],[825,56],[821,56],[817,57],[813,58],[809,59],[805,61],[801,62],[797,63],[793,65],[789,66],[786,67],[783,62],[780,56],[777,52],[773,53],[769,54],[765,53],[761,55],[757,54],[753,55],[749,54],[745,55],[741,54],[737,56],[733,55],[729,56],[725,57],[721,56],[717,55],[713,54],[709,52],[705,51],[701,50],[697,49],[693,49],[689,50],[685,49],[681,50],[677,51],[673,50],[669,51],[665,50],[661,52],[657,51],[653,52],[649,51],[645,53],[641,52],[637,52],[633,54],[629,55],[625,56],[621,57],[617,57],[613,58],[609,59],[605,60],[601,61],[597,62],[593,63],[589,64],[585,65],[581,66],[577,65],[573,66],[569,64],[565,65],[561,63],[557,64],[553,62],[549,63],[545,62],[541,64],[537,63],[533,65],[529,64],[525,65],[521,64],[517,63],[513,63],[509,62],[505,61],[501,60],[497,59],[493,58],[489,57],[485,57],[481,56],[477,55],[473,55],[469,54],[465,53],[461,53],[457,52],[453,52],[449,51],[445,51],[441,50],[437,50],[433,49],[429,50],[425,49],[421,50],[417,50],[413,51],[409,50],[405,51]];

// ---------- ticks & labels ----------
const A_xLabels = [3200, 3000, 2800];
const A_xMinor = [3150, 3100, 3050, 2950, 2900, 2850, 2750, 2700];
const B_xLabels = [1500, 1000, 500];
const B_xMinor = [1800, 1700, 1600, 1400, 1300, 1200, 1100, 900, 800, 700, 600];
const A_yMajor = [0, 75, 150, 225, 300, 375, 450, 525, 600];
const A_yMinor = [-15, 15, 30, 45, 60, 90, 105, 120, 135, 165, 180, 195, 210, 240, 255, 270, 285, 315, 330, 345, 360, 390, 405, 420, 435, 465, 480, 495, 510, 540, 555, 570, 585];
const doseLabels = ['10 Gy', '3 Gy', 'reference'];

const BLUE = '#1414c8';
const RED = '#e41a1c';
const GREEN = '#21a04f';
const TXT = 'Lato';

const chart = echarts.init(document.getElementById('chart'), null, {renderer: 'canvas'});

function xTitle(size) {
  return {
    name: '{a|Raman shift [cm}{s|-1}{a|]}',
    nameLocation: 'middle',
    nameGap: 60,
    nameTextStyle: {
      rich: {
        a: {fontFamily: TXT, fontSize: size, color: '#222'},
        s: {fontFamily: TXT, fontSize: 12, color: '#222', verticalAlign: 'top', padding: [0, 0, 12, 0]}
      }
    }
  };
}
const tickLabel = {show: true, margin: 12, fontFamily: 'Liberation Sans', fontSize: 16, color: '#222', formatter: v => String(v)};

function lineSeries(data, color, xi, yi) {
  return {
    type: 'line', data: data, xAxisIndex: xi, yAxisIndex: yi,
    showSymbol: false, symbol: 'none', animation: false, silent: true,
    lineStyle: {color: color, width: 1.4}, z: color === RED ? 3 : 2
  };
}
function doseText(x, y, t) {
  return {type: 'text', x: x, y: y, style: {text: t, align: 'center', verticalAlign: 'middle', fontFamily: TXT, fontWeight: 'bold', fontSize: 25, fill: GREEN}};
}

const option = {
  backgroundColor: '#fff',
  animation: false,
  grid: [
    {left: 72, top: 13, width: 410, height: 626},
    {left: 526, top: 13, width: 649, height: 626}
  ],
  xAxis: [
    Object.assign({
      gridIndex: 0, type: 'value', position: 'bottom', min: 2684, max: 3200, inverse: true,
      axisLine: {show: true, onZero: false, lineStyle: {color: '#000', width: 2}},
      axisTick: {show: true, length: 7, lineStyle: {color: '#000', width: 1.5}, customValues: A_xLabels},
      axisLabel: Object.assign({customValues: A_xLabels}, tickLabel),
      splitLine: {show: false}
    }, xTitle(21)),
    {
      gridIndex: 0, type: 'value', position: 'bottom', min: 2684, max: 3200, inverse: true,
      axisLine: {show: false, onZero: false},
      axisTick: {show: true, length: 4, lineStyle: {color: '#000', width: 1.5}, customValues: A_xMinor},
      axisLabel: {show: false}, splitLine: {show: false}
    },
    Object.assign({
      gridIndex: 1, type: 'value', position: 'bottom', min: 405, max: 1812, inverse: true,
      axisLine: {show: true, onZero: false, lineStyle: {color: '#000', width: 2}},
      axisTick: {show: true, length: 7, lineStyle: {color: '#000', width: 1.5}, customValues: B_xLabels},
      axisLabel: Object.assign({customValues: B_xLabels}, tickLabel, {margin: 13}),
      splitLine: {show: false}
    }, xTitle(22)),
    {
      gridIndex: 1, type: 'value', position: 'bottom', min: 405, max: 1812, inverse: true,
      axisLine: {show: false, onZero: false},
      axisTick: {show: true, length: 4, lineStyle: {color: '#000', width: 1.5}, customValues: B_xMinor},
      axisLabel: {show: false}, splitLine: {show: false}
    }
  ],
  yAxis: [
    {
      gridIndex: 0, type: 'value', position: 'left', min: -26, max: 600,
      name: 'Raman intensity [a.u.]', nameLocation: 'middle', nameGap: 39, nameRotate: 90,
      nameTextStyle: {fontFamily: TXT, fontSize: 30, color: '#222'},
      axisLine: {show: true, onZero: false, lineStyle: {color: '#000', width: 2}},
      axisTick: {show: true, length: 9, lineStyle: {color: '#000', width: 1.5}, customValues: A_yMajor},
      axisLabel: {show: false}, splitLine: {show: false}
    },
    {
      gridIndex: 0, type: 'value', position: 'left', min: -26, max: 600,
      axisLine: {show: false, onZero: false},
      axisTick: {show: true, length: 5, lineStyle: {color: '#000', width: 1.5}, customValues: A_yMinor},
      axisLabel: {show: false}, splitLine: {show: false}
    },
    {
      gridIndex: 1, type: 'value', min: 0, max: 626, show: false
    }
  ],
  graphic: [
    {type: 'text', left: 91, top: 16, style: {text: 'A', fontFamily: 'Liberation Sans', fontWeight: 'bold', fontSize: 25, fill: '#000'}},
    {type: 'text', left: 540, top: 16, style: {text: 'B', fontFamily: 'Liberation Sans', fontWeight: 'bold', fontSize: 25, fill: '#000'}},
    doseText(438, 386, doseLabels[0]),
    doseText(435, 479, doseLabels[1]),
    doseText(434, 580, doseLabels[2]),
    doseText(1106, 178, doseLabels[0]),
    doseText(1105, 352, doseLabels[1]),
    doseText(1106, 535, doseLabels[2])
  ],
  series: [
    lineSeries(A_10Gy_blue, BLUE, 0, 0),
    lineSeries(A_3Gy_blue, BLUE, 0, 0),
    lineSeries(A_ref_blue, BLUE, 0, 0),
    lineSeries(A_10Gy_red, RED, 0, 0),
    lineSeries(A_3Gy_red, RED, 0, 0),
    lineSeries(A_ref_red, RED, 0, 0),
    lineSeries(B_10Gy_blue, BLUE, 2, 2),
    lineSeries(B_3Gy_blue, BLUE, 2, 2),
    lineSeries(B_ref_blue, BLUE, 2, 2),
    lineSeries(B_10Gy_red, RED, 2, 2),
    lineSeries(B_3Gy_red, RED, 2, 2),
    lineSeries(B_ref_red, RED, 2, 2)
  ]
};
chart.setOption(option);
</script>
</body>
</html>
